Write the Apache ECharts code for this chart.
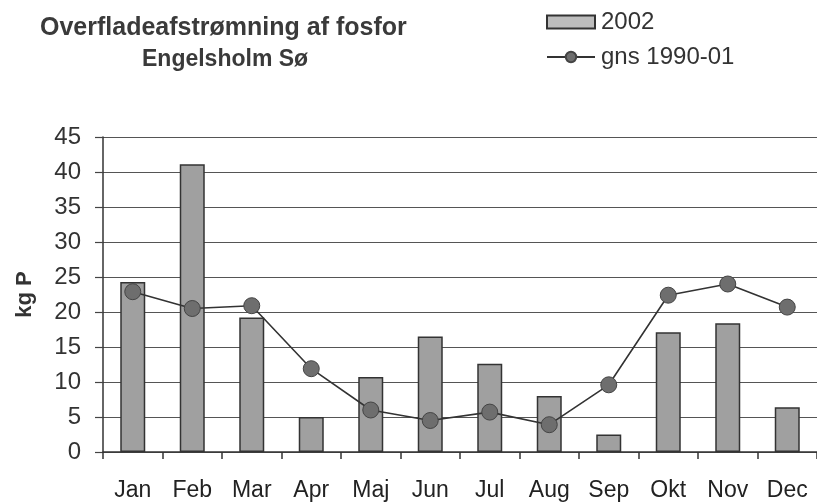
<!DOCTYPE html>
<html>
<head>
<meta charset="utf-8">
<script src="https://cdn.jsdelivr.net/npm/echarts@6/dist/echarts.min.js"></script>
<style>html,body{margin:0;padding:0;background:#fff}#c{width:817px;height:503px}</style>
</head>
<body>
<div id="c"></div>
<script>
var months = ['Jan','Feb','Mar','Apr','Maj','Jun','Jul','Aug','Sep','Okt','Nov','Dec'];
var values2002 = [24.3, 41.1, 19.2, 5.0, 10.7, 16.5, 12.6, 8.0, 2.5, 17.1, 18.4, 6.4];
var valuesAvg = [22.9, 20.5, 20.9, 11.9, 6.0, 4.5, 5.7, 3.9, 9.6, 22.4, 24.0, 20.7];
var chart = echarts.init(document.getElementById('c'));
chart.setOption({
  backgroundColor: '#ffffff',
  animation: false,
  title: [
    {text: 'Overfladeafstrømning af fosfor', left: 35, top: 11,
     textStyle: {fontFamily: 'Liberation Sans', fontSize: 25, fontWeight: 'bold', color: '#3a3a3a'}},
    {text: 'Engelsholm Sø', left: 137, top: 43,
     textStyle: {fontFamily: 'Liberation Sans', fontSize: 23, fontWeight: 'bold', color: '#3a3a3a'}}
  ],
  legend: {
    orient: 'vertical', left: 541, top: 5, itemGap: 11, itemWidth: 48, itemHeight: 13,
    textStyle: {fontFamily: 'Liberation Sans', fontSize: 24, color: '#333', padding: [0,0,0,1]},
    data: [{name: '2002', icon: 'rect', itemStyle: {color: '#bdbdbd'}}, {name: 'gns 1990-01'}]
  },
  grid: {left: 103, right: -9, top: 137, bottom: 51, containLabel: false},
  xAxis: {
    type: 'category', data: months,
    axisLine: {lineStyle: {color: '#333', width: 1.5}},
    axisTick: {show: true, length: 7, lineStyle: {color: '#333', width: 1.5}},
    axisLabel: {fontFamily: 'Liberation Sans', fontSize: 23, color: '#222', margin: 27}
  },
  yAxis: {
    type: 'value', min: 0, max: 45, interval: 5,
    name: 'kg P', nameLocation: 'middle', nameGap: 67, nameRotate: 90,
    nameTextStyle: {fontFamily: 'Liberation Sans', fontSize: 22, fontWeight: 'bold', color: '#333'},
    axisLine: {show: true, lineStyle: {color: '#333', width: 1.5}},
    axisTick: {show: true, length: 8, lineStyle: {color: '#444', width: 1.2}},
    axisLabel: {fontFamily: 'Liberation Sans', fontSize: 24, color: '#333', margin: 22},
    splitLine: {lineStyle: {color: '#555', width: 1.2}}
  },
  series: [
    {name: '2002', type: 'bar', data: values2002, barWidth: 25,
     itemStyle: {color: '#a0a0a0', borderColor: '#333', borderWidth: 1.5}},
    {name: 'gns 1990-01', type: 'line', data: valuesAvg, symbol: 'circle', symbolSize: 16,
     lineStyle: {color: '#333', width: 1.6},
     itemStyle: {color: '#6e6e6e', borderColor: '#444', borderWidth: 1}}
  ]
});
</script>
</body>
</html>
